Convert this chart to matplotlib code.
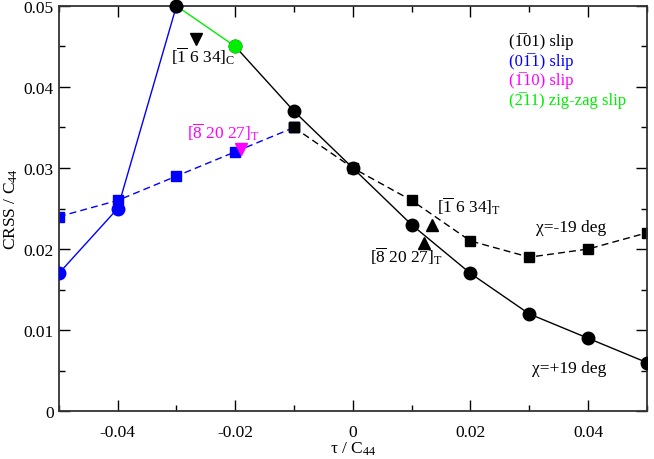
import matplotlib
matplotlib.use("Agg")
import matplotlib.pyplot as plt
from matplotlib.ticker import MultipleLocator, FuncFormatter

plt.rcParams["font.family"] = ["Liberation Serif", "DejaVu Serif"]
plt.rcParams["mathtext.fontset"] = "custom"
plt.rcParams["mathtext.rm"] = "Liberation Serif"
plt.rcParams["mathtext.it"] = "Liberation Serif:italic"
plt.rcParams["axes.unicode_minus"] = False

# chi = +19 deg, (-101) slip branch
tau_pos = [-0.02, -0.01, 0.0, 0.01, 0.02, 0.03, 0.04, 0.05]
crss_pos = [0.045, 0.037, 0.030, 0.023, 0.017, 0.012, 0.009, 0.006]
# (0-1-1) slip branch, solid
tau_blue_solid = [-0.05, -0.04, -0.03]
crss_blue_solid = [0.017, 0.025, 0.050]
# zig-zag slip segment
tau_green = [-0.03, -0.02]
crss_green = [0.050, 0.045]
# chi = -19 deg, dashed branches
tau_neg = [-0.01, 0.0, 0.01, 0.02, 0.03, 0.04, 0.05]
crss_neg = [0.035, 0.030, 0.026, 0.021, 0.019, 0.020, 0.022]
tau_blue_dash = [-0.05, -0.04, -0.03, -0.02, -0.01]
crss_blue_dash = [0.024, 0.026, 0.029, 0.032, 0.035]
# single orientations
tri_down_k = (-0.0267, 0.0459)
tri_down_m = (-0.0190, 0.0324)
tri_up_k = [(0.0134, 0.0230), (0.0121, 0.0207)]

# plain text with combining overline (U+0305) on the negative index
legend_labels = [
    "(1\u030501) slip",
    "(01\u03051) slip",
    "(1\u030510) slip",
    "(2\u030511) zig-zag slip",
]
legend_colors = ["black", "blue", "magenta", "#00ee00"]

fig, ax = plt.subplots(figsize=(6.54, 4.60), dpi=100)
fig.subplots_adjust(left=0.090, right=0.989, bottom=0.104, top=0.985)

lw = 1.0
ax.plot(tau_blue_dash, crss_blue_dash, color="blue", lw=lw, ls=(0, (5, 3)),
        marker="s", ms=7.5, zorder=2)
ax.plot(tau_neg, crss_neg, color="black", lw=lw, ls=(0, (5, 3)),
        marker="s", ms=7.5, zorder=2)
ax.plot(tau_blue_solid, crss_blue_solid, color="blue", lw=lw,
        marker="o", ms=9, zorder=3)
ax.plot(tau_green, crss_green, color="#00ee00", lw=lw, zorder=3)
ax.plot(tau_pos, crss_pos, color="black", lw=lw, marker="o", ms=9, zorder=3)
# recolour the junction markers
ax.plot([-0.03], [0.050], "o", color="black", ms=9, zorder=4, clip_on=False)
ax.plot([-0.02], [0.045], "o", color="#00ee00", ms=9, zorder=4)
ax.plot([-0.01], [0.035], "s", color="black", ms=7.5, zorder=4)

ax.plot(*tri_down_k, "v", color="black", ms=8, zorder=4)
ax.plot(*tri_down_m, "v", color="magenta", ms=8, zorder=4)
for x, y in tri_up_k:
    ax.plot(x, y, "^", color="black", ms=8, zorder=4)

fs = 12.5
ax.text(-0.0310, 0.0431, r"$[\overline{1}\ 6\ 34]_\mathrm{C}$", fontsize=fs)
ax.text(-0.0282, 0.0338, r"$[\overline{8}\ 20\ 27]_\mathrm{T}$", fontsize=fs,
        color="magenta")
ax.text(0.0143, 0.0246, r"$[\overline{1}\ 6\ 34]_\mathrm{T}$", fontsize=fs)
ax.text(0.0029, 0.0184, r"$[\overline{8}\ 20\ 27]_\mathrm{T}$", fontsize=fs)
ax.text(0.0311, 0.0222, "χ=-19 deg", fontsize=fs)
ax.text(0.0304, 0.0048, "χ=+19 deg", fontsize=fs)

for i, (txt, col) in enumerate(zip(legend_labels, legend_colors)):
    ax.text(0.0265, 0.0457 - i * 0.0024, txt, fontsize=12, color=col,
            va="center")

ax.set_xlim(-0.05, 0.05)
ax.set_ylim(0, 0.05)
ax.xaxis.set_major_locator(MultipleLocator(0.02))
ax.xaxis.set_minor_locator(MultipleLocator(0.01))
ax.yaxis.set_major_locator(MultipleLocator(0.01))
ax.yaxis.set_minor_locator(MultipleLocator(0.005))
fmt = FuncFormatter(lambda v, p: "0" if abs(v) < 1e-9 else f"{v:g}")
ax.xaxis.set_major_formatter(fmt)
ax.yaxis.set_major_formatter(fmt)
ax.tick_params(which="both", direction="in", top=True, right=True,
               labelsize=fs, width=1.0)
ax.tick_params(which="major", length=8)
ax.tick_params(which="minor", length=4)
ax.tick_params(axis="x", which="major", pad=9)
for sp in ax.spines.values():
    sp.set_linewidth(1.3)
    sp.set_color("#333333")

ax.set_xlabel(r"τ / C$_{44}$", fontsize=fs, labelpad=0)
ax.set_ylabel(r"CRSS / C$_{44}$", fontsize=fs, labelpad=3)

fig.savefig("out.png", dpi=100)
